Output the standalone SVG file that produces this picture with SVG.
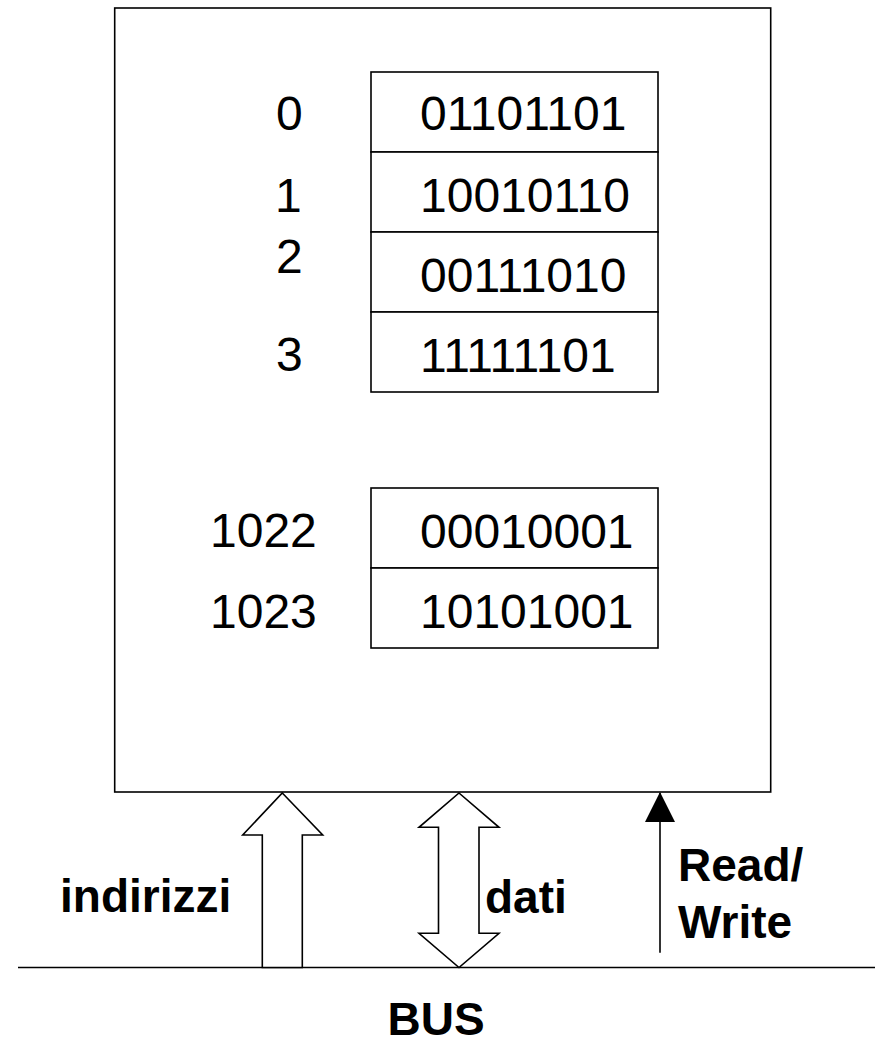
<svg xmlns="http://www.w3.org/2000/svg" width="875" height="1061" viewBox="0 0 875 1061">
<style>
.ln{fill:none;stroke:#000;stroke-width:1.6}
.cell{fill:#fff;stroke:#000;stroke-width:1.6}
.t{font-family:"Liberation Sans",Arial,sans-serif;font-size:48px;fill:#000}
.b{font-family:"Liberation Sans",Arial,sans-serif;font-size:46px;font-weight:bold;fill:#000}
.arr{fill:#fff;stroke:#000;stroke-width:1.6;stroke-linejoin:miter}
</style>
<defs>
<marker id="ah" markerWidth="30" markerHeight="30" viewBox="0 0 30 30" refX="29" refY="15" orient="auto" markerUnits="userSpaceOnUse">
<path d="M0,0 L30,15 L0,30 Z" fill="#000"/>
</marker>
</defs>
<g id="memory">
<rect class="cell" x="114.7" y="8" width="656" height="784"/>
</g>
<g id="cell0"><rect class="cell" x="371" y="72" width="287" height="80"/><text class="t" x="420" y="130">01101101</text><text class="t" x="276" y="130">0</text></g>
<g id="cell1"><rect class="cell" x="371" y="152" width="287" height="80"/><text class="t" x="420" y="212">10010110</text><text class="t" x="275" y="212">1</text></g>
<g id="cell2"><rect class="cell" x="371" y="232" width="287" height="80"/><text class="t" x="420" y="292">00111010</text><text class="t" x="276" y="273">2</text></g>
<g id="cell3"><rect class="cell" x="371" y="312" width="287" height="80"/><text class="t" x="420" y="372">11111101</text><text class="t" x="276" y="371">3</text></g>
<g id="cell1022"><rect class="cell" x="371" y="488" width="287" height="80"/><text class="t" x="420" y="548">00010001</text><text class="t" x="210" y="547">1022</text></g>
<g id="cell1023"><rect class="cell" x="371" y="568" width="287" height="80"/><text class="t" x="420" y="628">10101001</text><text class="t" x="210" y="628">1023</text></g>
<g id="bus">
<line class="ln" x1="18" y1="967.5" x2="875" y2="967.5"/>
<text class="b" x="436" y="1035" text-anchor="middle" font-size="50">BUS</text>
</g>
<g id="connectors">
<polygon class="arr" points="282.3,793 322.7,835 302.3,835 302.3,967.5 262.3,967.5 262.3,835 242.7,835"/>
<polygon class="arr" points="459,793 499,827.3 479,827.3 479,933.3 499,933.3 459,967.5 419,933.3 438.5,933.3 438.5,827.3 419,827.3"/>
<line class="ln" x1="660" y1="952.7" x2="660" y2="793" marker-end="url(#ah)"/>
</g>
<g id="labels">
<text class="b" x="60" y="912">indirizzi</text>
<text class="b" x="485" y="912.7">dati</text>
<text class="b" x="678" y="880.7">Read/</text>
<text class="b" x="678" y="938">Write</text>
</g>
</svg>
